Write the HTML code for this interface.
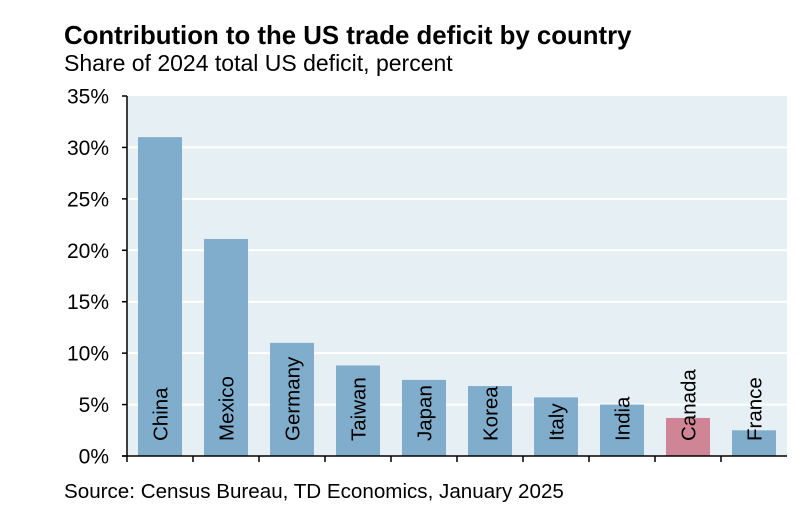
<!DOCTYPE html>
<html><head><meta charset="utf-8"><style>
body{margin:0;background:#fff;width:801px;height:512px;overflow:hidden;font-family:"Liberation Sans",Arial,sans-serif}
</style></head><body>
<svg width="801" height="512" style="position:absolute;left:0;top:0">
<text x="64" y="44" font-size="25.8" font-weight="bold" fill="#000">Contribution to the US trade deficit by country</text>
<text x="64" y="71" font-size="23" fill="#000">Share of 2024 total US deficit, percent</text>
<rect x="127" y="96" width="660" height="360" fill="#e6eff3"/>
<g id="grid"></g><g id="bars"></g><g id="axes"></g>
<text x="64" y="498" font-size="20.6" fill="#000">Source: Census Bureau, TD Economics, January 2025</text>
</svg>
<script>
const categories=["China","Mexico","Germany","Taiwan","Japan","Korea","Italy","India","Canada","France"];
const values=[31.0,21.1,11.0,8.8,7.4,6.8,5.7,5.0,3.7,2.5];
const highlight=["Canada"];
const yTicks=[0,5,10,15,20,25,30,35];
const yTickLabels=["0%","5%","10%","15%","20%","25%","30%","35%"];
const NS="http://www.w3.org/2000/svg";
const x0=127,plotW=660,y0=456,plotH=360,yMax=35;
const band=plotW/categories.length;
function y(v){return y0-v/yMax*plotH;}
function x(i){return x0+i*band;}
function mk(t,a,p){const e=document.createElementNS(NS,t);for(const k in a)e.setAttribute(k,a[k]);p.appendChild(e);return e;}
const grid=document.getElementById('grid'),bars=document.getElementById('bars'),axes=document.getElementById('axes');
yTicks.forEach((t,i)=>{
  if(t>0&&t<yMax){const g=mk('line',{x1:x0,x2:x0+plotW,y1:y(t),y2:y(t),stroke:'#fff','stroke-width':2},grid);
  
  }
  const tk=mk('line',{x1:x0-5,x2:x0,y1:y(t),y2:y(t),stroke:'#000','stroke-width':1.5},axes);
  
  
  const l=mk('text',{x:x0-18,y:y(t)+7.5,'font-size':21,'text-anchor':'end',fill:'#000'},axes);
  l.textContent=yTickLabels[i];
  
  
});
categories.forEach((c,i)=>{
  const bx=x(i)+band/6,bw=band*2/3;
  const r=mk('rect',{x:bx,y:y(values[i]),width:bw,height:y0-y(values[i]),fill:highlight.includes(c)?'#d08596':'#80adcb'},bars);
  
  
  const cx=bx+bw/2+7.5,ty=441;
  const t=mk('text',{x:cx,y:ty,'font-size':20.5,fill:'#000',transform:`rotate(-90 ${cx} ${ty})`},bars);
  t.textContent=c;
  
  
  const tk=mk('line',{x1:x(i),x2:x(i),y1:y0,y2:y0+6,stroke:'#000','stroke-width':1.5},axes);
  
  
});
const ya=mk('line',{x1:x0,x2:x0,y1:96,y2:y0,stroke:'#000','stroke-width':1.5},axes);


const xa=mk('line',{x1:x0-5,x2:x0+plotW,y1:y0,y2:y0,stroke:'#000','stroke-width':1.5},axes);


</script>
</body></html>
